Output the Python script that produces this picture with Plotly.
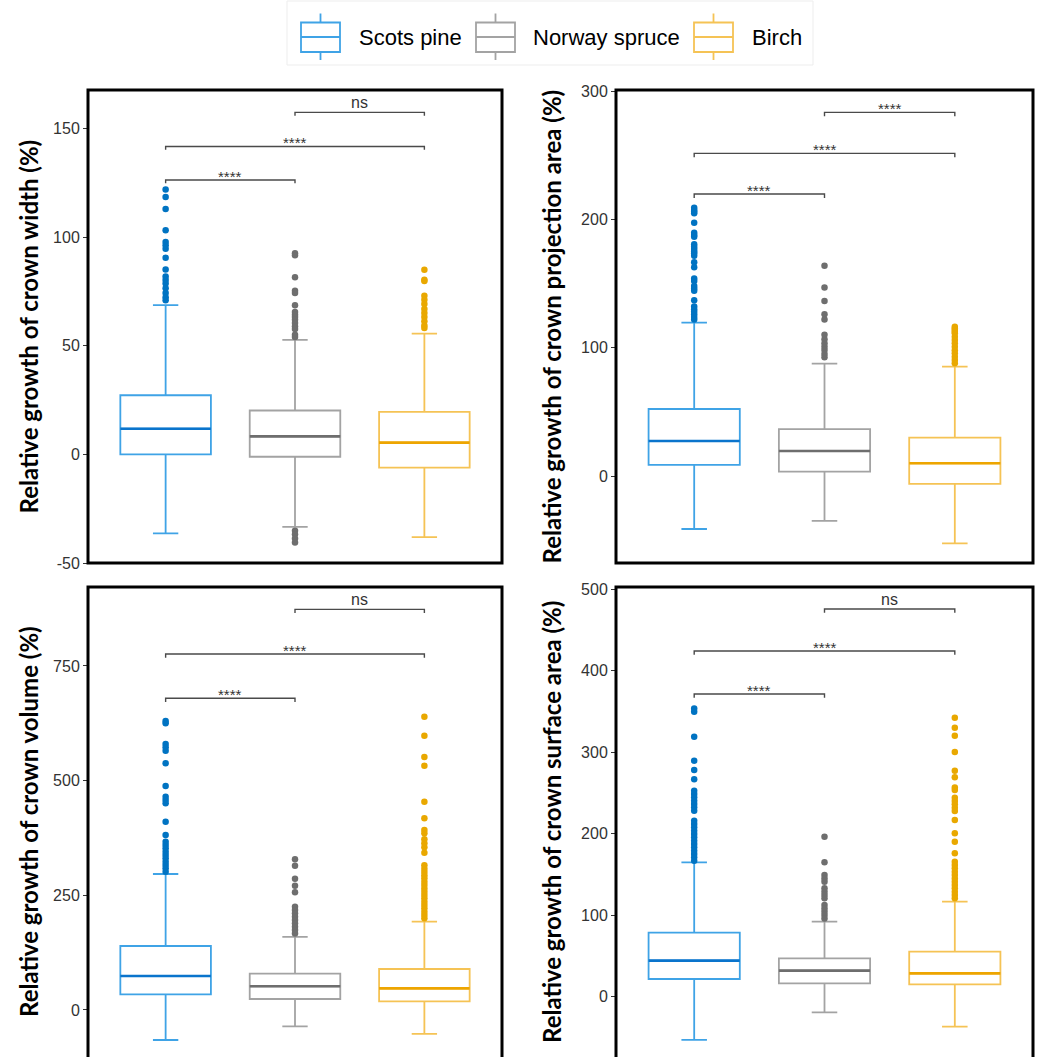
import plotly.graph_objects as go

# ---------------- data ----------------
species = ["Scots pine", "Norway spruce", "Birch"]

titles = [
    "Relative growth of crown width (%)",
    "Relative growth of crown projection area (%)",
    "Relative growth of crown volume (%)",
    "Relative growth of crown surface area (%)",
]

# box statistics per panel: [pine, spruce, birch]
width_q1 = [0.0, -1.1, -6.1]
width_med = [11.8, 8.3, 5.4]
width_q3 = [27.2, 20.2, 19.6]
width_lo = [-36.4, -33.4, -38.1]
width_hi = [68.7, 52.7, 55.6]
width_out_pine = [121.9, 118.4, 112.9, 103.2, 97.7, 96.2, 94.6, 90.5, 85.1, 81.9, 80.3, 78.6, 76.5, 74.3, 72.3, 70.9]
width_out_spruce = [92.6, 91.6, 81.5, 75.3, 74.3, 68.6, 65.5, 64.3, 63.2, 62.0, 60.5, 59.0, 57.7, 55.0, 54.0,
                    -35.2, -36.8, -38.7, -40.6]
width_out_birch = [85.0, 80.4, 79.8, 73.0, 71.2, 69.2, 66.9, 65.1, 63.2, 61.3, 59.3, 58.2]

proj_q1 = [8.6, 3.4, -6.2]
proj_med = [27.3, 19.5, 9.9]
proj_q3 = [52.2, 36.6, 29.9]
proj_lo = [-41.3, -35.0, -52.5]
proj_hi = [119.5, 87.5, 85.2]
proj_out_pine = [209.0, 207.3, 206.0, 204.7, 197.4, 189.6, 187.8, 186.5, 180.5, 178.7, 176.9, 175.0, 173.5, 171.7,
                 166.5, 162.6, 154.0, 152.0, 148.0, 146.2, 144.4, 137.0, 132.0, 130.0, 128.0, 126.0, 124.0, 122.0]
proj_out_spruce = [163.9, 146.8, 136.4, 126.0, 122.0, 110.0, 106.5, 103.4, 100.8, 98.2, 95.0, 92.5]
proj_out_birch = [116.4, 115.0, 113.8, 112.5, 111.2, 108.6, 106.0, 103.4, 100.8, 98.0, 95.6, 93.0, 90.4, 87.8]

vol_q1 = [34.2, 24.0, 18.9]
vol_med = [74.1, 51.6, 47.2]
vol_q3 = [139.5, 79.2, 89.4]
vol_lo = [-65.4, -35.6, -52.3]
vol_hi = [296.5, 159.2, 192.6]
vol_out_pine = [630.0, 625.0, 580.0, 572.7, 565.4, 537.8, 488.4, 465.0, 458.0, 450.6, 410.6, 381.5, 367.0, 359.7,
                352.5, 345.0, 338.0, 330.7, 323.0, 316.0, 309.0, 301.6]
vol_out_spruce = [328.5, 314.7, 286.3, 271.0, 256.5, 225.3, 218.0, 210.8, 203.5, 196.2, 189.0, 181.7, 174.4, 167.0]
vol_out_birch = [639.5, 598.0, 551.6, 532.7, 454.2, 417.9, 392.4, 385.2, 372.0, 363.4, 354.7, 343.0, 315.4, 308.0,
                 301.0, 294.0, 287.0, 279.8, 272.5, 265.0, 258.0, 250.7, 243.5, 236.0, 229.0, 221.7, 214.4, 207.0, 200.0]

surf_q1 = [21.7, 16.4, 15.1]
surf_med = [44.2, 31.9, 28.6]
surf_q3 = [78.5, 47.0, 55.2]
surf_lo = [-53.1, -19.2, -36.8]
surf_hi = [164.8, 92.0, 116.5]
surf_out_pine = [353.6, 349.6, 318.9, 289.5, 278.0, 266.6, 252.7, 248.6, 244.5, 240.4, 236.3, 232.2, 228.0, 215.9,
                 211.8, 207.7, 203.6, 199.5, 195.4, 191.3, 187.2, 183.2, 179.0, 175.0, 170.9, 166.8]
surf_out_spruce = [196.2, 164.8, 149.2, 145.0, 141.0, 132.9, 128.8, 124.7, 120.6, 112.4, 108.3, 104.3, 100.2, 96.0]
surf_out_birch = [342.2, 330.0, 320.0, 300.0, 277.2, 269.0, 256.7, 253.5, 244.0, 240.0, 236.0, 231.8, 227.7, 216.7,
                  200.3, 190.0, 175.8, 165.6, 161.5, 157.4, 153.3, 149.2, 145.0, 141.0, 137.0, 132.9, 128.8, 124.7, 120.6]

# significance brackets: (from, to, y, label)
width_sig = [(1, 2, 126.3, "****"), (1, 3, 141.7, "****"), (2, 3, 157.4, "ns")]
proj_sig = [(1, 2, 219.7, "****"), (1, 3, 251.4, "****"), (2, 3, 283.4, "****")]
vol_sig = [(1, 2, 679.5, "****"), (1, 3, 776.0, "****"), (2, 3, 873.5, "ns")]
surf_sig = [(1, 2, 371.2, "****"), (1, 3, 424.0, "****"), (2, 3, 475.5, "ns")]

width_ticks = [-50, 0, 50, 100, 150]
proj_ticks = [0, 100, 200, 300]
vol_ticks = [0, 250, 500, 750]
surf_ticks = [0, 100, 200, 300, 400, 500]

# ---------------- styling ----------------
W, H = 1043, 1057
box_col = ["#3FA3E6", "#A3A3A3", "#F5C355"]
med_col = ["#0A74CC", "#6E6E6E", "#EDA500"]
pt_col = ["#0073C2", "#6E6E6E", "#E9A800"]

panels = [
    dict(q1=width_q1, med=width_med, q3=width_q3, lo=width_lo, hi=width_hi,
         out=[width_out_pine, width_out_spruce, width_out_birch], sig=width_sig,
         ticks=width_ticks, yr=[-50, 167.7], px=(88, 502), py=(90, 563), tick_unit=1.5),
    dict(q1=proj_q1, med=proj_med, q3=proj_q3, lo=proj_lo, hi=proj_hi,
         out=[proj_out_pine, proj_out_spruce, proj_out_birch], sig=proj_sig,
         ticks=proj_ticks, yr=[-67.8, 300.8], px=(616, 1033), py=(90, 563), tick_unit=3.0),
    dict(q1=vol_q1, med=vol_med, q3=vol_q3, lo=vol_lo, hi=vol_hi,
         out=[vol_out_pine, vol_out_spruce, vol_out_birch], sig=vol_sig,
         ticks=vol_ticks, yr=[-102.5, 922.2], px=(88, 502), py=(587, 1057), tick_unit=8.0),
    dict(q1=surf_q1, med=surf_med, q3=surf_q3, lo=surf_lo, hi=surf_hi,
         out=[surf_out_pine, surf_out_spruce, surf_out_birch], sig=surf_sig,
         ticks=surf_ticks, yr=[-74.0, 502.5], px=(616, 1033), py=(587, 1057), tick_unit=4.5),
]

fig = go.Figure()
shapes = []
annotations = []

for i, p in enumerate(panels):
    n = i + 1
    xa = "x" if n == 1 else f"x{n}"
    ya = "y" if n == 1 else f"y{n}"
    for j, sp in enumerate(species):
        xpos = j + 1
        fig.add_trace(go.Box(
            x=[xpos], q1=[p["q1"][j]], median=[p["med"][j]], q3=[p["q3"][j]],
            lowerfence=[p["lo"][j]], upperfence=[p["hi"][j]],
            width=0.7, whiskerwidth=0.28, boxpoints=False,
            fillcolor="rgba(255,255,255,0)", line=dict(color=box_col[j], width=1.8),
            name=sp, showlegend=False,
            xaxis=xa, yaxis=ya, hoverinfo="skip",
        ))
        # thicker median line
        fig.add_trace(go.Scatter(
            x=[xpos - 0.35, xpos + 0.35], y=[p["med"][j]] * 2, mode="lines",
            line=dict(color=med_col[j], width=2.6), showlegend=False,
            xaxis=xa, yaxis=ya, hoverinfo="skip",
        ))
        # outliers
        fig.add_trace(go.Scatter(
            x=[xpos] * len(p["out"][j]), y=p["out"][j], mode="markers",
            marker=dict(color=pt_col[j], size=6.5), showlegend=False,
            xaxis=xa, yaxis=ya, hoverinfo="skip",
        ))
    # brackets
    for (a, b, yv, lab) in p["sig"]:
        t = p["tick_unit"]
        fig.add_trace(go.Scatter(
            x=[a, a, b, b], y=[yv - t, yv, yv, yv - t], mode="lines",
            line=dict(color="#4A4A4A", width=1.4), showlegend=False,
            xaxis=xa, yaxis=ya, hoverinfo="skip",
        ))
        star = lab == "****"
        annotations.append(dict(
            x=(a + b) / 2, y=yv, xref=xa, yref=ya, text=lab, showarrow=False,
            yanchor="bottom", yshift=(-7 if star else -1),
            font=dict(family="Liberation Sans, Arial", size=(15 if star else 16), color="#333333"),
        ))
    # domains
    x0, x1 = p["px"][0] / W, p["px"][1] / W
    y0, y1 = 1 - p["py"][1] / H, 1 - p["py"][0] / H
    axis_common = dict(showgrid=False, zeroline=False, automargin=False)
    fig.layout[("xaxis" if n == 1 else f"xaxis{n}")] = dict(
        domain=[x0, x1], range=[0.4, 3.6], showticklabels=False, ticks="",
        anchor=ya, **axis_common)
    fig.layout[("yaxis" if n == 1 else f"yaxis{n}")] = dict(
        domain=[max(y0, 0), y1], range=p["yr"], tickvals=p["ticks"],
        ticktext=[str(v) for v in p["ticks"]],
        ticks="outside", ticklen=4, tickwidth=1.2, tickcolor="#333333",
        tickfont=dict(family="Liberation Sans, Arial", size=16, color="#333333"),
        anchor=xa, **axis_common)
    # frame
    shapes.append(dict(
        type="rect", xref="paper", yref="paper",
        x0=x0, x1=x1, y0=(y0 if y0 > 0.001 else -0.01), y1=y1,
        line=dict(color="black", width=3), fillcolor="rgba(0,0,0,0)", layer="above",
    ))
    # y title
    tx = (28 if p["px"][0] < 300 else 551) / W
    annotations.append(dict(
        x=tx, y=(1 - (p["py"][0] + min(p["py"][1], 1060)) / 2 / H), xref="paper", yref="paper",
        text=titles[i], textangle=-90, showarrow=False,
        font=dict(family="Lato, Liberation Sans", size=24, color="black", weight="bold"),
        xanchor="center", yanchor="middle",
    ))

# ---------------- manual legend (box glyphs) ----------------
leg_icon_x = [301, 476, 694]
leg_text_x = [357, 531, 750]
icon_w = 39
shapes.append(dict(type="rect", xref="paper", yref="paper",
                   x0=287 / W, x1=813 / W, y0=1 - 65 / H, y1=1 - 1 / H,
                   line=dict(color="#EDEDED", width=1), fillcolor="rgba(0,0,0,0)"))
for j, sp in enumerate(species):
    lx0 = leg_icon_x[j]
    lx1 = lx0 + icon_w
    cx = (lx0 + lx1) / 2
    c = box_col[j]
    shapes.append(dict(type="rect", xref="paper", yref="paper",
                       x0=lx0 / W, x1=lx1 / W, y0=1 - 52 / H, y1=1 - 22.5 / H,
                       line=dict(color=c, width=1.8), fillcolor="white"))
    shapes.append(dict(type="line", xref="paper", yref="paper",
                       x0=lx0 / W, x1=lx1 / W, y0=1 - 37 / H, y1=1 - 37 / H,
                       line=dict(color=c, width=1.8)))
    shapes.append(dict(type="line", xref="paper", yref="paper",
                       x0=cx / W, x1=cx / W, y0=1 - 22.5 / H, y1=1 - 13.5 / H,
                       line=dict(color=c, width=1.8)))
    shapes.append(dict(type="line", xref="paper", yref="paper",
                       x0=cx / W, x1=cx / W, y0=1 - 60 / H, y1=1 - 52 / H,
                       line=dict(color=c, width=1.8)))
    annotations.append(dict(
        x=leg_text_x[j] / W, y=1 - 37 / H, xref="paper", yref="paper",
        text=sp, showarrow=False, xanchor="left", yanchor="middle",
        font=dict(family="Liberation Sans, Arial", size=22, color="black"),
    ))

fig.update_layout(
    width=W, height=H,
    margin=dict(l=0, r=0, t=0, b=0, autoexpand=False),
    paper_bgcolor="white", plot_bgcolor="white",
    shapes=shapes, annotations=annotations,
    showlegend=False,
)

fig.write_html(
    "out.html",
    config={"displayModeBar": False},
    post_script="document.body.style.margin='0';document.body.style.padding='0';"
                "document.body.style.overflow='hidden';"
                "document.documentElement.style.overflow='hidden';",
)
